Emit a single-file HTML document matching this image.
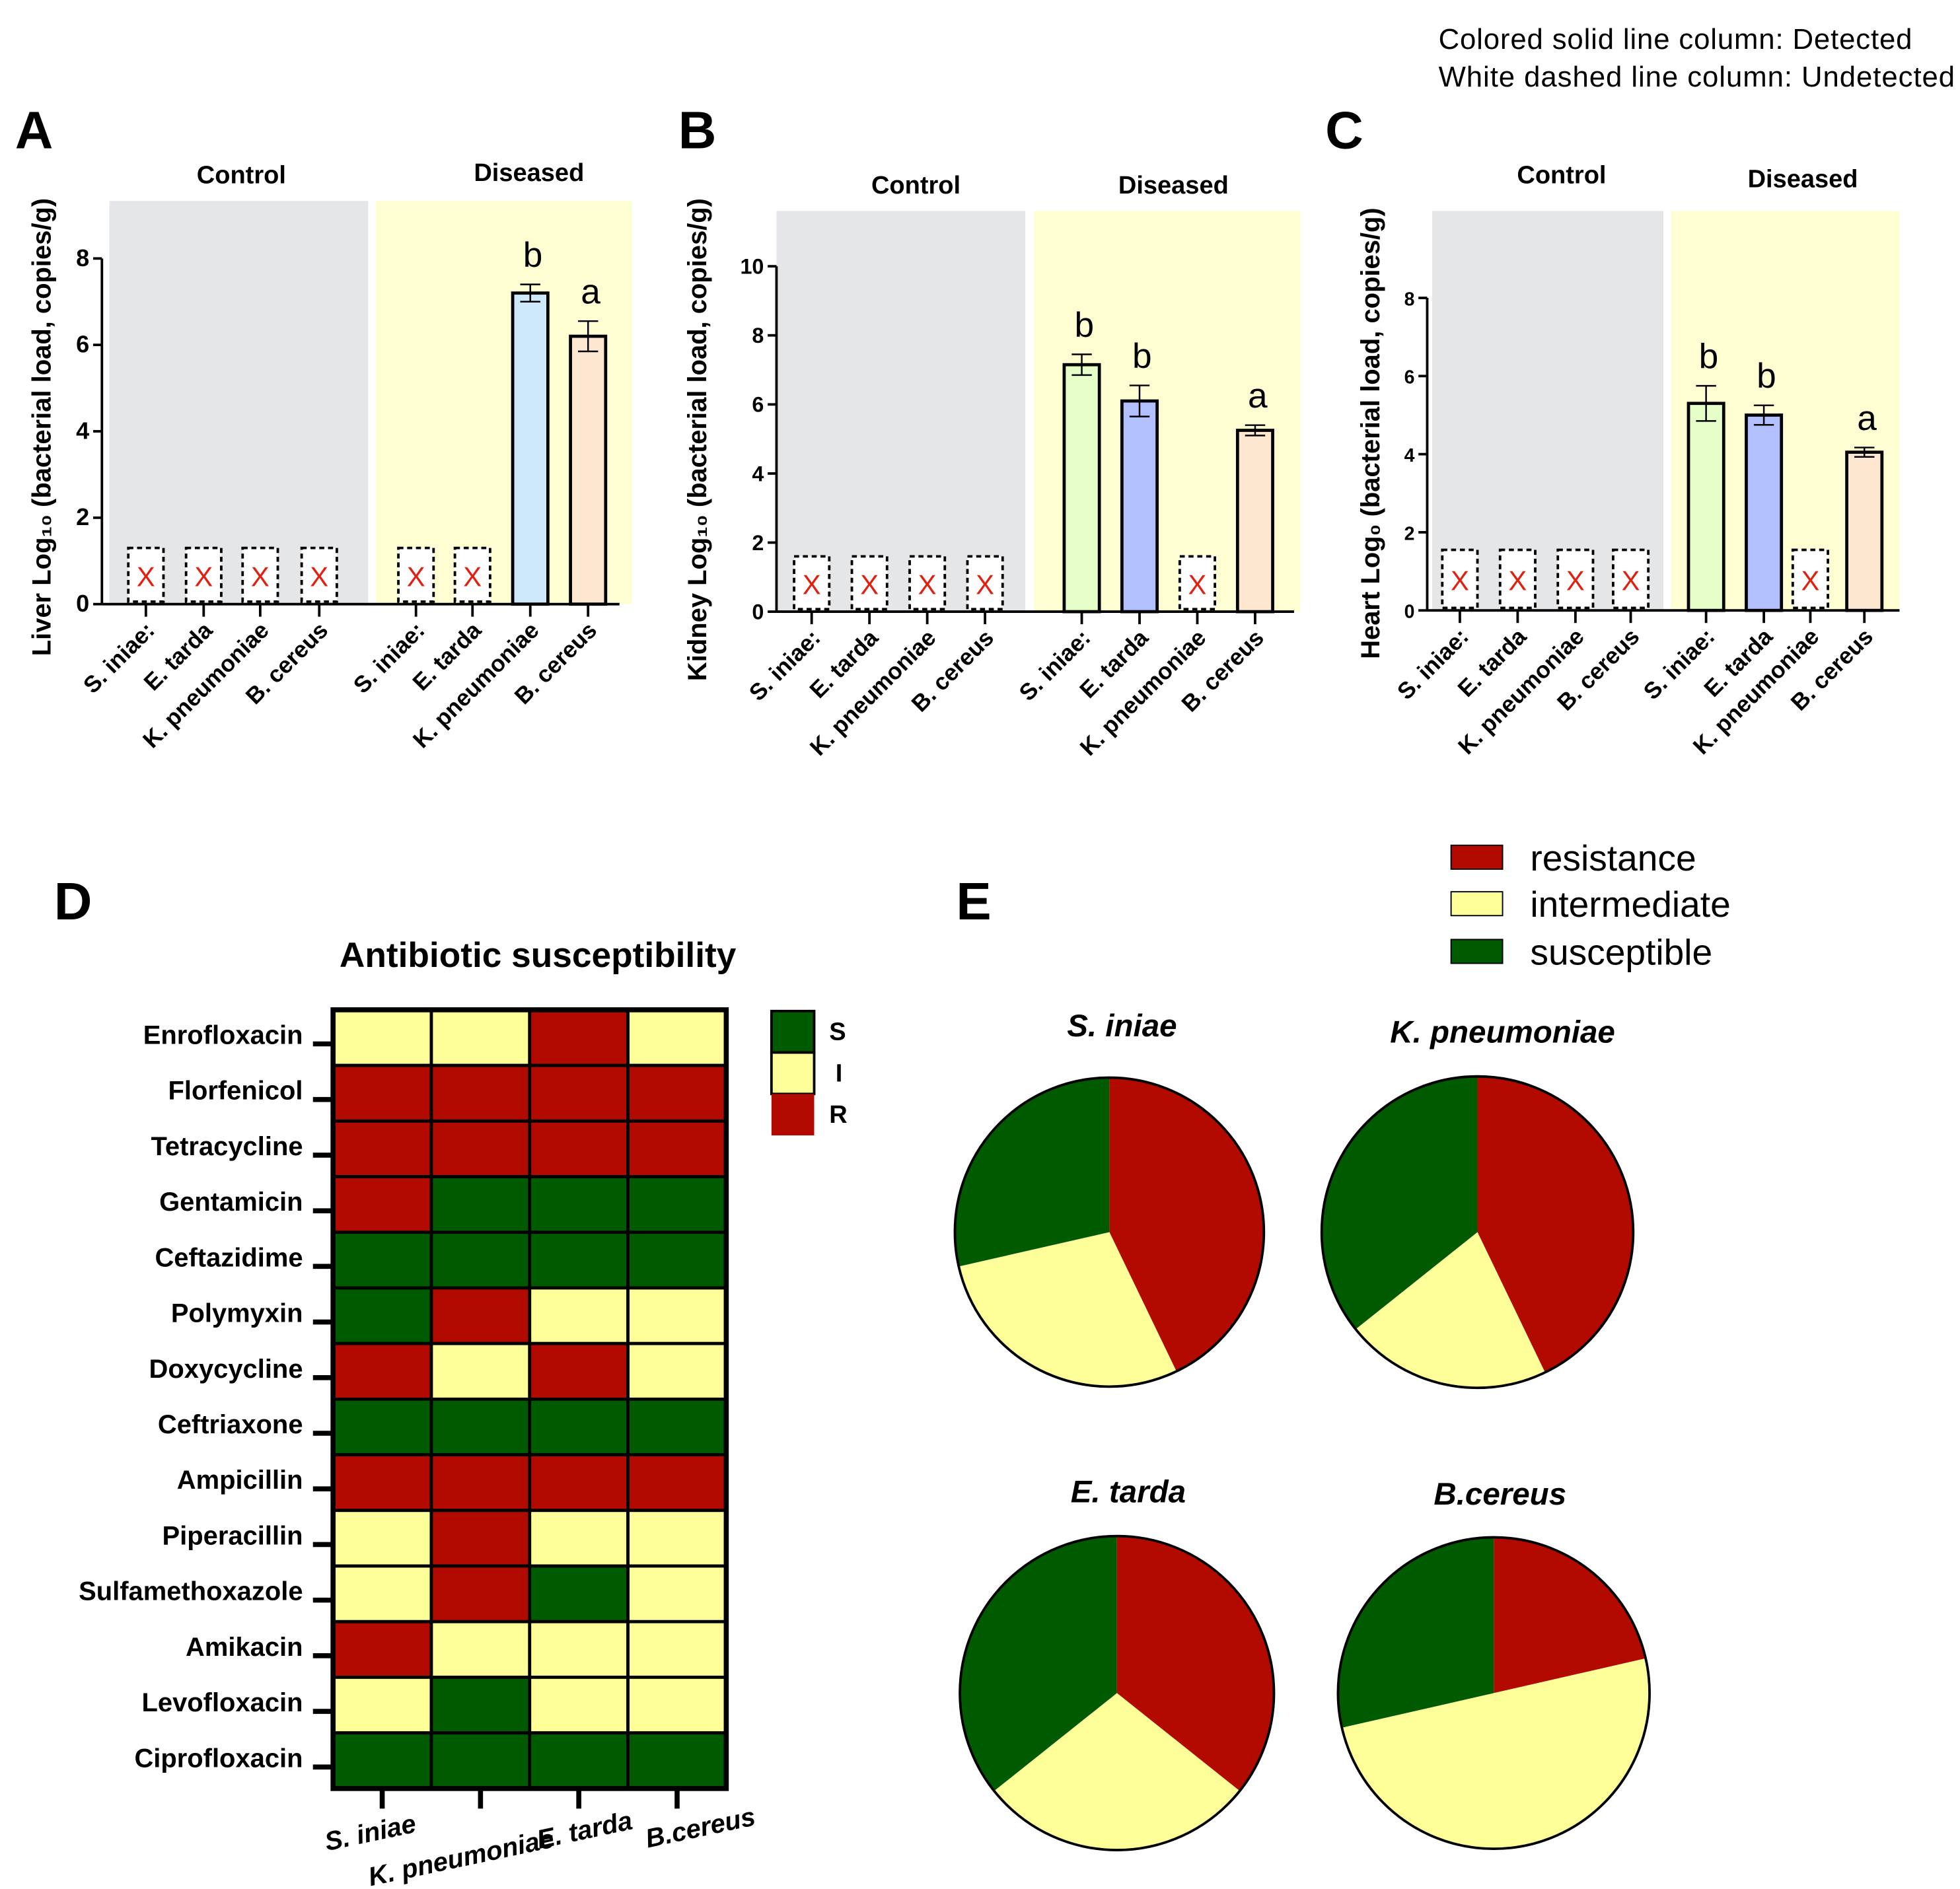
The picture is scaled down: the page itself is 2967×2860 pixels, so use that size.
<!DOCTYPE html>
<html><head><meta charset="utf-8"><style>
html,body{margin:0;padding:0;background:#fff;}
svg{display:block;font-family:"Liberation Sans",Arial,sans-serif;}
</style></head><body>
<svg id="fig" width="2967" height="2860" viewBox="0 0 1560 1504" xmlns="http://www.w3.org/2000/svg">
<text x="1145" y="39" font-size="23" textLength="377">Colored solid line column: Detected</text>
<text x="1145" y="69" font-size="23" textLength="411">White dashed line column: Undetected</text>
<g id="panels"></g>
</svg>
<script>
const NS="http://www.w3.org/2000/svg";
const svg=document.getElementById('panels');
function el(tag,attrs,parent,text){const e=document.createElementNS(NS,tag);for(const k in attrs)e.setAttribute(k,attrs[k]);if(text!==undefined)e.textContent=text;(parent||svg).appendChild(e);return e;}

// ---- Bar chart data ----
const barCategories=["S. iniae:","E. tarda","K. pneumoniae","B. cereus","S. iniae:","E. tarda","K. pneumoniae","B. cereus"];
const liverValues=[null,null,null,null,null,null,7.2,6.2];
const liverErrors=[0,0,0,0,0,0,0.2,0.35];
const liverLetters=["","","","","","","b","a"];
const kidneyValues=[null,null,null,null,7.15,6.1,null,5.25];
const kidneyErrors=[0,0,0,0,0.3,0.45,0,0.15];
const kidneyLetters=["","","","","b","b","","a"];
const heartValues=[null,null,null,null,5.3,5.0,null,4.05];
const heartErrors=[0,0,0,0,0.45,0.25,0,0.12];
const heartLetters=["","","","","b","b","","a"];
const liverTicks=[0,2,4,6,8];
const kidneyTicks=[0,2,4,6,8,10];
const heartTicks=[0,2,4,6,8];

function barPanel(cfg){
  const g=el('g',{});  
  const y=v=>cfg.y0-v*cfg.unit;
  const xs=i=>cfg.centers[i];
  const gr=el('rect',{x:cfg.gray[0],y:cfg.bgTop,width:cfg.gray[1]-cfg.gray[0],height:cfg.y0-cfg.bgTop,fill:'#e5e6e8'},g);
  
  const yr=el('rect',{x:cfg.yel[0],y:cfg.bgTop,width:cfg.yel[1]-cfg.yel[0],height:cfg.y0-cfg.bgTop,fill:'#fffdd2'},g);
  
  let t=el('text',{x:cfg.ctl[0],y:cfg.ctl[1],'font-size':20,'font-weight':'bold','text-anchor':'middle'},g,'Control');
  
  t=el('text',{x:cfg.dis[0],y:cfg.dis[1],'font-size':20,'font-weight':'bold','text-anchor':'middle'},g,'Diseased');
  
  t=el('text',{x:cfg.letter[0],y:cfg.letter[1],'font-size':42,'font-weight':'bold','text-anchor':'middle'},g,cfg.L);
  
  const ya=el('line',{x1:cfg.ax,y1:y(cfg.ticks[cfg.ticks.length-1]),x2:cfg.ax,y2:cfg.y0,stroke:'#000','stroke-width':2},g);
  
  const xa=el('line',{x1:cfg.ax,y1:cfg.y0,x2:cfg.xEnd,y2:cfg.y0,stroke:'#000','stroke-width':2},g);
  
  cfg.ticks.forEach(v=>{
    el('line',{x1:cfg.ax-7,y1:y(v),x2:cfg.ax,y2:y(v),stroke:'#000','stroke-width':2},g);
    const tl=el('text',{x:cfg.ax-10,y:y(v)+6,'font-size':cfg.tickFs,'font-weight':'bold','text-anchor':'end'},g,String(v));
    
  });
  const yt=el('text',{transform:`translate(${cfg.titleX},${cfg.titleY}) rotate(-90)`,'font-size':21,'font-weight':'bold','text-anchor':'middle'},g,cfg.title);
  
  cfg.values.forEach((v,i)=>{
    const cx=xs(i),w=28;
    if(v===null){
      const r=el('rect',{x:cx-w/2,y:y(cfg.undet),width:w,height:cfg.y0-y(cfg.undet)-2,fill:'#fff',stroke:'#000','stroke-width':2,'stroke-dasharray':'4,3'},g);
      
      const x=el('text',{x:cx,y:y(cfg.undet/2)+8,'font-size':22,fill:'#e02010','text-anchor':'middle'},g,'X');
      
    } else {
      const r=el('rect',{x:cx-w/2,y:y(v),width:w,height:cfg.y0-y(v),fill:cfg.colors[i],stroke:'#000','stroke-width':2.5},g);
      
      const e=cfg.errors[i];
      el('path',{d:`M${cx},${y(v+e)}V${y(v-e)}M${cx-8},${y(v+e)}H${cx+8}M${cx-8},${y(v-e)}H${cx+8}`,stroke:'#000','stroke-width':1.3,fill:'none'},g);
      const lt=el('text',{x:cx+2,y:y(v+e)-14,'font-size':28,'text-anchor':'middle'},g,cfg.letters[i]);
      
    }
    el('line',{x1:cx,y1:cfg.y0,x2:cx,y2:cfg.y0+10,stroke:'#000','stroke-width':2},g);
    const xl=el('text',{transform:`translate(${cx+8},${cfg.y0+22}) rotate(-45)`,'font-size':18.5,'font-weight':'bold','text-anchor':'end'},g,barCategories[i]);
    
  });
}
barPanel({name:'liver-chart',L:'A',letter:[27,118],ax:81,y0:481,unit:34.4,bgTop:160,gray:[87,293],yel:[299,503],xEnd:493,tickFs:19,
  centers:[116,162,207,254,331,376,422,468],ticks:liverTicks,values:liverValues,errors:liverErrors,letters:liverLetters,undet:1.3,
  colors:[0,0,0,0,0,0,'#cde9fb','#fde7d1'],ctl:[192,146],dis:[421,144],titleX:40,titleY:340,title:'Liver Log\u2081\u2080 (bacterial load, copies/g)'});
barPanel({name:'kidney-chart',L:'B',letter:[555,118],ax:618,y0:487,unit:27.5,bgTop:168,gray:[618,816],yel:[823,1035],xEnd:1030,tickFs:17,
  centers:[646,692,738,784,861,907,953,999],ticks:kidneyTicks,values:kidneyValues,errors:kidneyErrors,letters:kidneyLetters,undet:1.6,
  colors:[0,0,0,0,'#e6ffc8','#b3c0ff',0,'#fde7d1'],ctl:[729,154],dis:[934,154],titleX:562,titleY:350,title:'Kidney Log\u2081\u2080 (bacterial load, copies/g)'});
barPanel({name:'heart-chart',L:'C',letter:[1070,118],ax:1136,y0:486,unit:31.1,bgTop:168,gray:[1140,1324],yel:[1330,1512],xEnd:1512,tickFs:15,
  centers:[1162,1208,1254,1298,1358,1404,1441,1484],ticks:heartTicks,values:heartValues,errors:heartErrors,letters:heartLetters,undet:1.55,
  colors:[0,0,0,0,'#e6ffc8','#b3c0ff',0,'#fde7d1'],ctl:[1243,146],dis:[1435,149],titleX:1098,titleY:345,title:'Heart Log\u2080 (bacterial load, copies/g)'});

// ---- Heatmap data ----
const antibiotics=["Enrofloxacin","Florfenicol","Tetracycline","Gentamicin","Ceftazidime","Polymyxin","Doxycycline","Ceftriaxone","Ampicillin","Piperacillin","Sulfamethoxazole","Amikacin","Levofloxacin","Ciprofloxacin"];
const species=["S. iniae","K. pneumoniae","E. tarda","B.cereus"];
const siniae=["I","R","R","R","S","S","R","S","R","I","I","R","I","S"];
const kpneu=["I","R","R","S","S","R","I","S","R","R","R","I","S","S"];
const etarda=["R","R","R","S","S","I","R","S","R","I","S","I","I","S"];
const bcereus=["I","R","R","S","S","I","I","S","R","I","I","I","I","S"];
const heatColumns=[siniae,kpneu,etarda,bcereus];
const colorMap={R:'#b30a00',I:'#ffff99',S:'#005a00'};

(function(){
  const g=el('g',{});
  let t=el('text',{x:58,y:732,'font-size':42,'font-weight':'bold','text-anchor':'middle'},g,'D');
  
  t=el('text',{x:428,y:770,'font-size':28,'font-weight':'bold','text-anchor':'middle'},g,'Antibiotic susceptibility');
  
  const x0=265,y0=804,cw=(578-265)/species.length,rh=(1424-804)/antibiotics.length;
  heatColumns.forEach((col,j)=>col.forEach((v,i)=>{
    const c=el('rect',{x:x0+j*cw,y:y0+i*rh,width:cw,height:rh,fill:colorMap[v],stroke:'#000','stroke-width':2.5},g);
    
  }));
  el('rect',{x:x0,y:y0,width:cw*4,height:rh*14,fill:'none',stroke:'#000','stroke-width':4},g);
  antibiotics.forEach((a,i)=>{
    const yy=y0+i*rh+rh/2+5;
    el('line',{x1:249,y1:yy,x2:264,y2:yy,stroke:'#000','stroke-width':4},g);
    const l=el('text',{x:241,y:yy,'font-size':21,'font-weight':'bold','text-anchor':'end'},g,a);
    
  });
  species.forEach((s,j)=>{
    const xx=x0+j*cw+cw/2;
    el('line',{x1:xx,y1:1424,x2:xx,y2:1440,stroke:'#000','stroke-width':4},g);
    const l=el('text',{transform:`translate(${xx+[-8,-14,6,20][j]},${[1466,1486,1464,1462][j]}) rotate(-12)`,'font-size':21,'font-weight':'bold','font-style':'italic','text-anchor':'middle'},g,s);
    
  });
  [['S','#005a00',805],['I','#ffff99',838],['R','#b30a00',871]].forEach(([k,c,yy])=>{
    const r=el('rect',{x:614,y:yy,width:34,height:33,fill:c,stroke:k==='R'?'none':'#000','stroke-width':2},g);
    
    const l=el('text',{x:k==='I'?665:660,y:yy+23,'font-size':20,'font-weight':'bold'},g,k);
    
  });
})();

// ---- Pies (counts derived from heatmap data) ----
(function(){
  const g=el('g',{});
  let t=el('text',{x:775,y:732,'font-size':42,'font-weight':'bold','text-anchor':'middle'},g,'E');
  
  [['resistance','#b30a00',673],['intermediate','#ffff99',710],['susceptible','#005a00',748]].forEach(([n,c,yy])=>{
    const r=el('rect',{x:1155,y:yy,width:41,height:19,fill:c,stroke:'#000','stroke-width':1},g);
    
    const l=el('text',{x:1218,y:yy+20,'font-size':29},g,n);
    
  });
  const pies=[[883,981,123,817],[1176,981,124,822],[889,1348,125,1188],[1189,1348,124,1190]];
  const titles=["S. iniae","K. pneumoniae","E. tarda","B.cereus"];
  const titleX=[893,1196,898,1194];
  heatColumns.forEach((col,j)=>{
    const [cx,cy,r,ty]=pies[j];
    const counts=['R','I','S'].map(k=>col.filter(v=>v===k).length);
    const tot=counts.reduce((a,b)=>a+b,0);
    let a0=0;
    ['R','I','S'].forEach((k,m)=>{
      const a1=a0+counts[m]/tot*2*Math.PI;
      const p=(a)=>[cx+r*Math.sin(a),cy-r*Math.cos(a)];
      const [x1,y1]=p(a0),[x2,y2]=p(a1);
      const s=el('path',{d:`M${cx},${cy}L${x1},${y1}A${r},${r} 0 ${a1-a0>Math.PI?1:0} 1 ${x2},${y2}Z`,fill:colorMap[k]},g);
      
      a0=a1;
    });
    el('circle',{cx,cy,r,fill:'none',stroke:'#000','stroke-width':2},g);
    const tl=el('text',{x:titleX[j],y:ty+8,'font-size':25,'font-weight':'bold','font-style':'italic','text-anchor':'middle'},g,titles[j]);
    
  });
})();
</script>
</body></html>
